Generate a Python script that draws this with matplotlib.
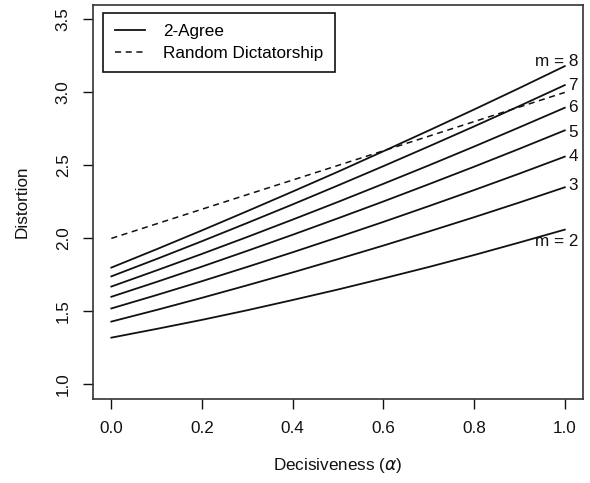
import matplotlib
matplotlib.use("Agg")
import matplotlib.pyplot as plt

plt.rcParams['font.family'] = ['Liberation Sans', 'DejaVu Sans']

alpha = [0.0, 0.1, 0.2, 0.3, 0.4, 0.5, 0.6, 0.7, 0.8, 0.9, 1.0]

# 2-Agree distortion, one curve per m
agree_m2 = [1.32, 1.380, 1.442, 1.508, 1.578, 1.650, 1.726, 1.804, 1.886, 1.972, 2.06]
agree_m3 = [1.43, 1.510, 1.593, 1.679, 1.767, 1.858, 1.951, 2.047, 2.145, 2.246, 2.35]
agree_m4 = [1.52, 1.612, 1.707, 1.805, 1.905, 2.008, 2.113, 2.221, 2.331, 2.444, 2.56]
agree_m5 = [1.60, 1.702, 1.807, 1.915, 2.025, 2.138, 2.253, 2.371, 2.491, 2.614, 2.74]
agree_m6 = [1.67, 1.781, 1.894, 2.010, 2.129, 2.250, 2.374, 2.500, 2.629, 2.761, 2.895]
agree_m7 = [1.74, 1.859, 1.981, 2.106, 2.233, 2.363, 2.495, 2.630, 2.767, 2.907, 3.05]
agree_m8 = [1.80, 1.926, 2.055, 2.187, 2.321, 2.457, 2.597, 2.739, 2.883, 3.030, 3.18]

rd_alpha = [0.0, 1.0]
rd_values = [2.0, 3.0]

curve_labels = ["m = 2", "3", "4", "5", "6", "7", "m = 8"]
label_x = [0.982, 1.018, 1.018, 1.018, 1.018, 1.018, 0.982]
label_y = [1.982, 2.363, 2.564, 2.728, 2.897, 3.048, 3.212]

fs = 12.3
ink = "#111111"

fig = plt.figure(figsize=(5.9, 4.83), dpi=100)
ax = fig.add_axes([0.158, 0.174, 0.830, 0.816])

curves = [agree_m2, agree_m3, agree_m4, agree_m5, agree_m6, agree_m7, agree_m8]
for i, c in enumerate(curves):
    ax.plot(alpha, c, color=ink, lw=1.3, label="2-Agree" if i == 0 else None)

ax.plot(rd_alpha, rd_values, color=ink, lw=1.1, dashes=(4, 3),
        label="Random Dictatorship")

for lab, x, y in zip(curve_labels, label_x, label_y):
    ax.text(x, y, lab, ha="center", va="center", fontsize=fs, color=ink, clip_on=False)

ax.set_xlim(-0.04, 1.04)
ax.set_ylim(0.9, 3.6)
ax.set_xticks([0.0, 0.2, 0.4, 0.6, 0.8, 1.0])
ax.set_yticks([1.0, 1.5, 2.0, 2.5, 3.0, 3.5])
ax.set_xticklabels(["0.0", "0.2", "0.4", "0.6", "0.8", "1.0"])
ax.set_yticklabels(["1.0", "1.5", "2.0", "2.5", "3.0", "3.5"], rotation=90, va="center")
ax.tick_params(axis="both", direction="out", length=7.2, width=1.0, colors=ink,
               labelsize=fs, pad=9)
for s in ax.spines.values():
    s.set_color("#333333")
    s.set_linewidth(1.2)

ax.set_xlabel(r"Decisiveness ($\alpha$)", fontsize=fs, color=ink, labelpad=14)
ax.set_ylabel("Distortion", fontsize=fs, color=ink, labelpad=19)

leg = ax.legend(loc="upper left", bbox_to_anchor=(0.02, 0.98), fontsize=fs,
                frameon=True, fancybox=False, edgecolor=ink, framealpha=1,
                handlelength=1.8, handletextpad=1.05, borderpad=0.68,
                labelspacing=0.38, borderaxespad=0)
leg.get_frame().set_linewidth(1.2)

fig.savefig("out.png", dpi=100)
